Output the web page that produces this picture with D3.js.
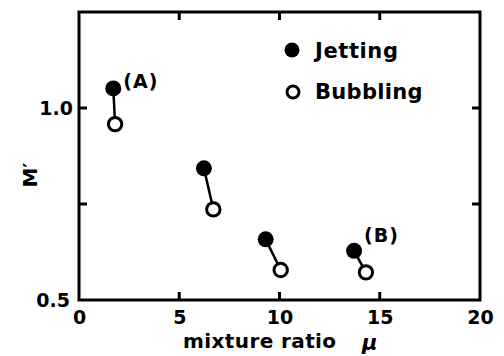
<!DOCTYPE html>
<html><head><meta charset="utf-8">
<script src="https://cdn.jsdelivr.net/npm/d3@7"></script>
<style>
html,body{margin:0;padding:0;background:#fff;}
text{font-family:"DejaVu Sans",sans-serif;font-weight:bold;fill:#000;}
</style></head>
<body>
<svg id="c" width="504" height="356"></svg>
<script>
// data
const muJet = [1.71, 6.23, 9.31, 13.72];
const mJet = [1.051, 0.843, 0.658, 0.628];
const muBub = [1.80, 6.70, 10.06, 14.31];
const mBub = [0.958, 0.736, 0.578, 0.572];
const pairLabels = ["(A)", "", "", "(B)"];
const xTicks = [0, 5, 10, 15, 20];
const xTickLabels = ["0", "5", "10", "15", "20"];
const yTicks = [0.5, 0.75, 1.0];
const yTickLabels = ["0.5", "", "1.0"];
const legendNames = ["Jetting", "Bubbling"];

const svg = d3.select("#c");
const L = 79, R = 480, T = 12, B = 300;
const x = d3.scaleLinear().domain([0, 20]).range([L, R]);
const y = d3.scaleLinear().domain([0.5, 1.25]).range([B, T]);

// frame
svg.append("rect").attr("x", L).attr("y", T).attr("width", R - L).attr("height", B - T)
  .attr("fill", "none").attr("stroke", "#000").attr("stroke-width", 3);

// inward ticks
const tl = 8;
const innerX = xTicks.filter(v => v > 0 && v < 20);
innerX.forEach(v => {
  svg.append("line").attr("x1", x(v)).attr("x2", x(v)).attr("y1", B).attr("y2", B - tl)
    .attr("stroke", "#000").attr("stroke-width", 3);
  svg.append("line").attr("x1", x(v)).attr("x2", x(v)).attr("y1", T).attr("y2", T + tl)
    .attr("stroke", "#000").attr("stroke-width", 3);
});
const innerY = yTicks.filter(v => v > 0.5);
innerY.forEach(v => {
  svg.append("line").attr("x1", L).attr("x2", L + tl).attr("y1", y(v)).attr("y2", y(v))
    .attr("stroke", "#000").attr("stroke-width", 3);
  svg.append("line").attr("x1", R).attr("x2", R - tl).attr("y1", y(v)).attr("y2", y(v))
    .attr("stroke", "#000").attr("stroke-width", 3);
});

// axis labels via d3 axes
const xAxis = d3.axisBottom(x).tickValues(xTicks).tickSize(0).tickPadding(11)
  .tickFormat((d, i) => xTickLabels[i]);
const gx = svg.append("g").attr("transform", `translate(0,${B})`).call(xAxis);
gx.select(".domain").remove();
gx.selectAll("text").style("font-size", "19px").style("font-family", "DejaVu Sans").style("font-weight", "bold");

const yAxis = d3.axisLeft(y).tickValues(yTicks).tickSize(0).tickPadding(6)
  .tickFormat((d, i) => yTickLabels[i]);
const gy = svg.append("g").attr("transform", `translate(${L},0)`).call(yAxis);
gy.select(".domain").remove();
gy.selectAll("text").style("font-size", "19px").style("font-family", "DejaVu Sans").style("font-weight", "bold")
  .attr("x", (d) => d === 0.5 ? -9 : -6);

// axis titles
svg.append("text").attr("x", 183).attr("y", 348).style("font-size", "20px")
  .attr("letter-spacing", "0.4").text("mixture ratio");
svg.append("text").attr("x", 362).attr("y", 350).style("font-size", "21px")
  .style("font-style", "italic").text("μ");
svg.append("text").attr("transform", "translate(37,175) rotate(-90)")
  .attr("text-anchor", "middle").style("font-size", "20px").text("M′");

// connectors
const pairs = muJet.map((v, i) => ({ xj: v, yj: mJet[i], xb: muBub[i], yb: mBub[i], lab: pairLabels[i] }));
svg.selectAll(".conn").data(pairs).enter().append("line")
  .attr("x1", d => x(d.xj)).attr("y1", d => y(d.yj))
  .attr("x2", d => x(d.xb)).attr("y2", d => y(d.yb))
  .attr("stroke", "#000").attr("stroke-width", 2.5);

// markers
svg.selectAll(".jet").data(pairs).enter().append("circle")
  .attr("cx", d => x(d.xj)).attr("cy", d => y(d.yj)).attr("r", 8).attr("fill", "#000");
svg.selectAll(".bub").data(pairs).enter().append("circle")
  .attr("cx", d => x(d.xb)).attr("cy", d => y(d.yb)).attr("r", 6.7)
  .attr("fill", "#fff").attr("stroke", "#000").attr("stroke-width", 3);

// annotation labels
svg.selectAll(".lab").data(pairs.filter(d => d.lab)).enter().append("text")
  .attr("x", d => x(d.xj) + 10).attr("y", d => y(d.yj) + (d.lab === "(A)" ? 0 : -9))
  .style("font-size", "19px").attr("letter-spacing", "1").text(d => d.lab);

// legend
const lg = svg.append("g");
lg.append("circle").attr("cx", 292).attr("cy", 50).attr("r", 7.5).attr("fill", "#000");
lg.append("circle").attr("cx", 293).attr("cy", 92).attr("r", 6).attr("fill", "#fff")
  .attr("stroke", "#000").attr("stroke-width", 3);
lg.append("text").attr("x", 315).attr("y", 58).style("font-size", "21px").attr("letter-spacing", "0.6").text(legendNames[0]);
lg.append("text").attr("x", 315).attr("y", 99).style("font-size", "21px").attr("letter-spacing", "0.3").text(legendNames[1]);
</script>
</body></html>
